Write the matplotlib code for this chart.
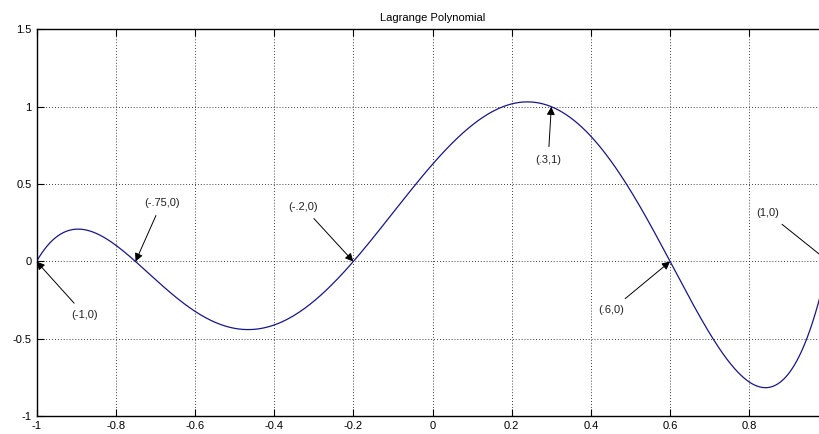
"""
    Lagrange polynomial through six nodes, MATLAB style
"""

import numpy as np
import matplotlib.pyplot as plt

# interpolation nodes (read from the annotations)
node_x = [-1.0, -0.75, -0.2, 0.3, 0.6, 1.0]
node_y = [0.0, 0.0, 0.0, 1.0, 0.0, 0.0]

labels = ['(-1,0)', '(-.75,0)', '(-.2,0)', '(.3,1)', '(.6,0)', '(1,0)']
label_x = [-0.878, -0.684, -0.327, 0.292, 0.452, 0.847]
label_y = [-0.346, 0.38, 0.354, 0.656, -0.313, 0.313]

# the x = 1 tick sits on the cropped right edge, so it has no label
x_ticks = [-1, -0.8, -0.6, -0.4, -0.2, 0, 0.2, 0.4, 0.6, 0.8]
x_tick_labels = ['-1', '-0.8', '-0.6', '-0.4', '-0.2', '0', '0.2', '0.4', '0.6', '0.8']
y_ticks = [-1, -0.5, 0, 0.5, 1, 1.5]
y_tick_labels = ['-1', '-0.5', '0', '0.5', '1', '1.5']


def lagrange(xs, ys, t):
    """ Evaluate the Lagrange form of the interpolating polynomial """
    total = np.zeros_like(t)
    for i, (xi, yi) in enumerate(zip(xs, ys)):
        term = np.full_like(t, yi)
        for j, xj in enumerate(xs):
            if j != i:
                term *= (t - xj) / (xi - xj)
        total += term
    return total


plt.rcParams['font.family'] = ['Liberation Sans', 'DejaVu Sans']

fig = plt.figure(figsize=(8.19, 4.34), dpi=100)
ax = fig.add_axes([0.0446, 0.0408, 0.967, 0.8917])

t = np.linspace(-1, 1, 600)
ax.plot(t, lagrange(node_x, node_y, t), color='#16168f', lw=0.9)

for lab, lx, ly, px, py in zip(labels, label_x, label_y, node_x, node_y):
    ax.annotate(lab, xy=(px, py), xytext=(lx, ly), ha='center', va='center',
                fontsize=8, color='#222222',
                arrowprops=dict(arrowstyle='-|>', color='black', lw=0.7,
                                shrinkA=4, shrinkB=0, mutation_scale=12))

ax.set_xlim(-1, 1)
ax.set_ylim(-1, 1.5)
ax.set_xticks(x_ticks, x_tick_labels)
ax.set_yticks(y_ticks, y_tick_labels)
ax.tick_params(direction='in', top=True, right=True, labelsize=8, length=5, width=0.8)
ax.grid(True, linestyle=(0, (1, 2.5)), color='black', lw=0.6)
for side in ax.spines.values():
    side.set_linewidth(1.0)
ax.set_title('Lagrange Polynomial', fontsize=8, pad=6)

fig.savefig('out.png', dpi=100)
